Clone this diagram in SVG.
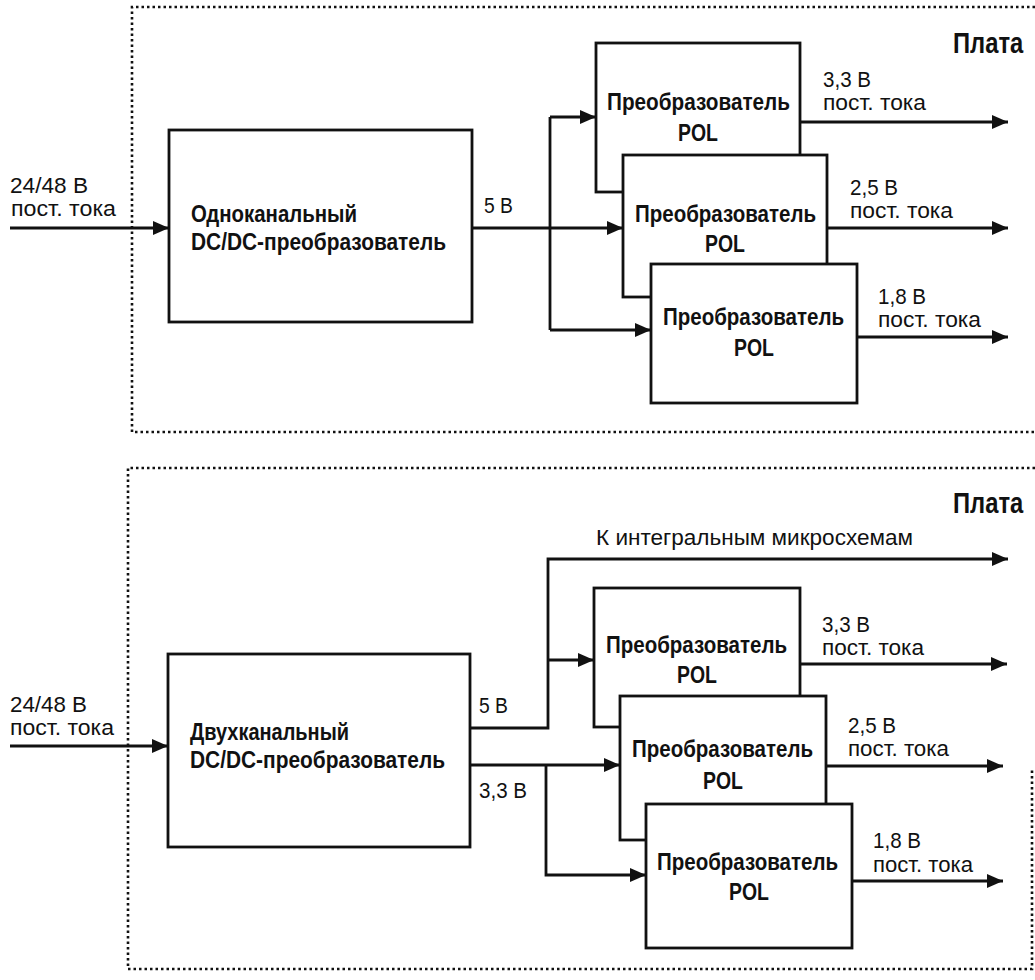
<svg xmlns="http://www.w3.org/2000/svg" width="1035" height="980" viewBox="0 0 1035 980">
<style>
.bg{fill:#fff}
.board{fill:none;stroke:#111;stroke-width:2.6;stroke-dasharray:2.5 3}
.box{fill:#fff;stroke:#111;stroke-width:2.8}
.wire{fill:none;stroke:#111;stroke-width:2.8}
.lbl{font-family:"Liberation Sans",Arial,sans-serif;font-size:22px;fill:#111}
.bold{font-family:"Liberation Sans",Arial,sans-serif;font-weight:bold;font-size:24px;fill:#111}
.title{font-family:"Liberation Sans",Arial,sans-serif;font-weight:bold;font-size:29px;fill:#111}
</style>
<defs>
<marker id="arr" markerUnits="userSpaceOnUse" markerWidth="17" markerHeight="14" refX="16" refY="7" orient="auto">
<path d="M0,0 L16,7 L0,14 z" fill="#111"/>
</marker>
</defs>
<rect class="bg" x="0" y="0" width="1035" height="980"/>

<g id="boards">
<path class="board" d="M1035,7 H132 V432 H1035"/>
<path class="board" d="M1035,468 H128 V969 H1032 V770"/>
<text class="title" transform="translate(953,53) scale(0.82,1)" x="0" y="0">Плата</text>
<text class="title" transform="translate(953,513) scale(0.82,1)" x="0" y="0">Плата</text>
</g>

<g id="top-dcdc">
<rect class="box" x="169" y="130" width="303" height="192"/>
<text class="bold" x="191" y="222" textLength="166" lengthAdjust="spacingAndGlyphs">Одноканальный</text>
<text class="bold" x="191" y="250" textLength="255" lengthAdjust="spacingAndGlyphs">DC/DC-преобразователь</text>
</g>
<g id="top-pol1">
<rect class="box" x="596" y="43" width="204" height="149"/>
<text class="bold" x="607" y="110" textLength="183" lengthAdjust="spacingAndGlyphs">Преобразователь</text>
<text class="bold" x="678" y="141" textLength="40" lengthAdjust="spacingAndGlyphs">POL</text>
</g>
<g id="top-pol2">
<rect class="box" x="623" y="155" width="204" height="142"/>
<text class="bold" x="635" y="222" textLength="181" lengthAdjust="spacingAndGlyphs">Преобразователь</text>
<text class="bold" x="705" y="252" textLength="40" lengthAdjust="spacingAndGlyphs">POL</text>
</g>
<g id="top-pol3">
<rect class="box" x="651" y="264" width="206" height="139"/>
<text class="bold" x="663" y="325" textLength="181" lengthAdjust="spacingAndGlyphs">Преобразователь</text>
<text class="bold" x="734" y="356" textLength="40" lengthAdjust="spacingAndGlyphs">POL</text>
</g>

<g id="bot-dcdc">
<rect class="box" x="168" y="654" width="302" height="193"/>
<text class="bold" x="190" y="740" textLength="159" lengthAdjust="spacingAndGlyphs">Двухканальный</text>
<text class="bold" x="190" y="768" textLength="255" lengthAdjust="spacingAndGlyphs">DC/DC-преобразователь</text>
</g>
<g id="bot-pol1">
<rect class="box" x="594" y="588" width="206" height="139"/>
<text class="bold" x="606" y="653" textLength="181" lengthAdjust="spacingAndGlyphs">Преобразователь</text>
<text class="bold" x="677" y="683" textLength="40" lengthAdjust="spacingAndGlyphs">POL</text>
</g>
<g id="bot-pol2">
<rect class="box" x="620" y="696" width="206" height="144"/>
<text class="bold" x="632" y="757" textLength="181" lengthAdjust="spacingAndGlyphs">Преобразователь</text>
<text class="bold" x="703" y="789" textLength="40" lengthAdjust="spacingAndGlyphs">POL</text>
</g>
<g id="bot-pol3">
<rect class="box" x="646" y="804" width="206" height="144"/>
<text class="bold" x="657" y="870" textLength="181" lengthAdjust="spacingAndGlyphs">Преобразователь</text>
<text class="bold" x="729" y="900" textLength="40" lengthAdjust="spacingAndGlyphs">POL</text>
</g>

<g id="connectors">
<line class="wire" x1="10" y1="228" x2="169" y2="228" marker-end="url(#arr)"/>
<line class="wire" x1="472" y1="228" x2="623" y2="228" marker-end="url(#arr)"/>
<line class="wire" x1="550" y1="117" x2="550" y2="330"/>
<line class="wire" x1="550" y1="117" x2="596" y2="117" marker-end="url(#arr)"/>
<line class="wire" x1="550" y1="330" x2="651" y2="330" marker-end="url(#arr)"/>
<line class="wire" x1="800" y1="122" x2="1008" y2="122" marker-end="url(#arr)"/>
<line class="wire" x1="827" y1="228" x2="1008" y2="228" marker-end="url(#arr)"/>
<line class="wire" x1="857" y1="337" x2="1008" y2="337" marker-end="url(#arr)"/>
<line class="wire" x1="10" y1="746" x2="168" y2="746" marker-end="url(#arr)"/>
<path class="wire" d="M470,728 H548 V559 H1008" marker-end="url(#arr)"/>
<line class="wire" x1="548" y1="660" x2="594" y2="660" marker-end="url(#arr)"/>
<line class="wire" x1="470" y1="765" x2="620" y2="765" marker-end="url(#arr)"/>
<path class="wire" d="M546,765 V875 H646" marker-end="url(#arr)"/>
<line class="wire" x1="800" y1="664" x2="1007" y2="664" marker-end="url(#arr)"/>
<line class="wire" x1="826" y1="766" x2="1003" y2="766" marker-end="url(#arr)"/>
<line class="wire" x1="852" y1="881" x2="1003" y2="881" marker-end="url(#arr)"/>
</g>

<g id="labels">
<text class="lbl" x="10" y="193" textLength="78" lengthAdjust="spacingAndGlyphs">24/48 В</text>
<text class="lbl" x="11" y="216" textLength="105" lengthAdjust="spacingAndGlyphs">пост. тока</text>
<text class="lbl" x="484" y="213" textLength="29" lengthAdjust="spacingAndGlyphs">5 В</text>
<text class="lbl" x="823" y="87" textLength="48" lengthAdjust="spacingAndGlyphs">3,3 В</text>
<text class="lbl" x="823" y="110" textLength="103" lengthAdjust="spacingAndGlyphs">пост. тока</text>
<text class="lbl" x="850" y="195" textLength="48" lengthAdjust="spacingAndGlyphs">2,5 В</text>
<text class="lbl" x="850" y="218" textLength="103" lengthAdjust="spacingAndGlyphs">пост. тока</text>
<text class="lbl" x="878" y="304" textLength="48" lengthAdjust="spacingAndGlyphs">1,8 В</text>
<text class="lbl" x="878" y="327" textLength="103" lengthAdjust="spacingAndGlyphs">пост. тока</text>

<text class="lbl" x="10" y="712" textLength="77" lengthAdjust="spacingAndGlyphs">24/48 В</text>
<text class="lbl" x="10" y="735" textLength="104" lengthAdjust="spacingAndGlyphs">пост. тока</text>
<text class="lbl" x="479" y="713" textLength="29" lengthAdjust="spacingAndGlyphs">5 В</text>
<text class="lbl" x="479" y="798" textLength="48" lengthAdjust="spacingAndGlyphs">3,3 В</text>
<text class="lbl" x="596" y="545" textLength="317" lengthAdjust="spacingAndGlyphs">К интегральным микросхемам</text>
<text class="lbl" x="822" y="632" textLength="48" lengthAdjust="spacingAndGlyphs">3,3 В</text>
<text class="lbl" x="822" y="655" textLength="102" lengthAdjust="spacingAndGlyphs">пост. тока</text>
<text class="lbl" x="848" y="733" textLength="48" lengthAdjust="spacingAndGlyphs">2,5 В</text>
<text class="lbl" x="848" y="756" textLength="101" lengthAdjust="spacingAndGlyphs">пост. тока</text>
<text class="lbl" x="873" y="848" textLength="48" lengthAdjust="spacingAndGlyphs">1,8 В</text>
<text class="lbl" x="873" y="872" textLength="100" lengthAdjust="spacingAndGlyphs">пост. тока</text>
</g>
</svg>
